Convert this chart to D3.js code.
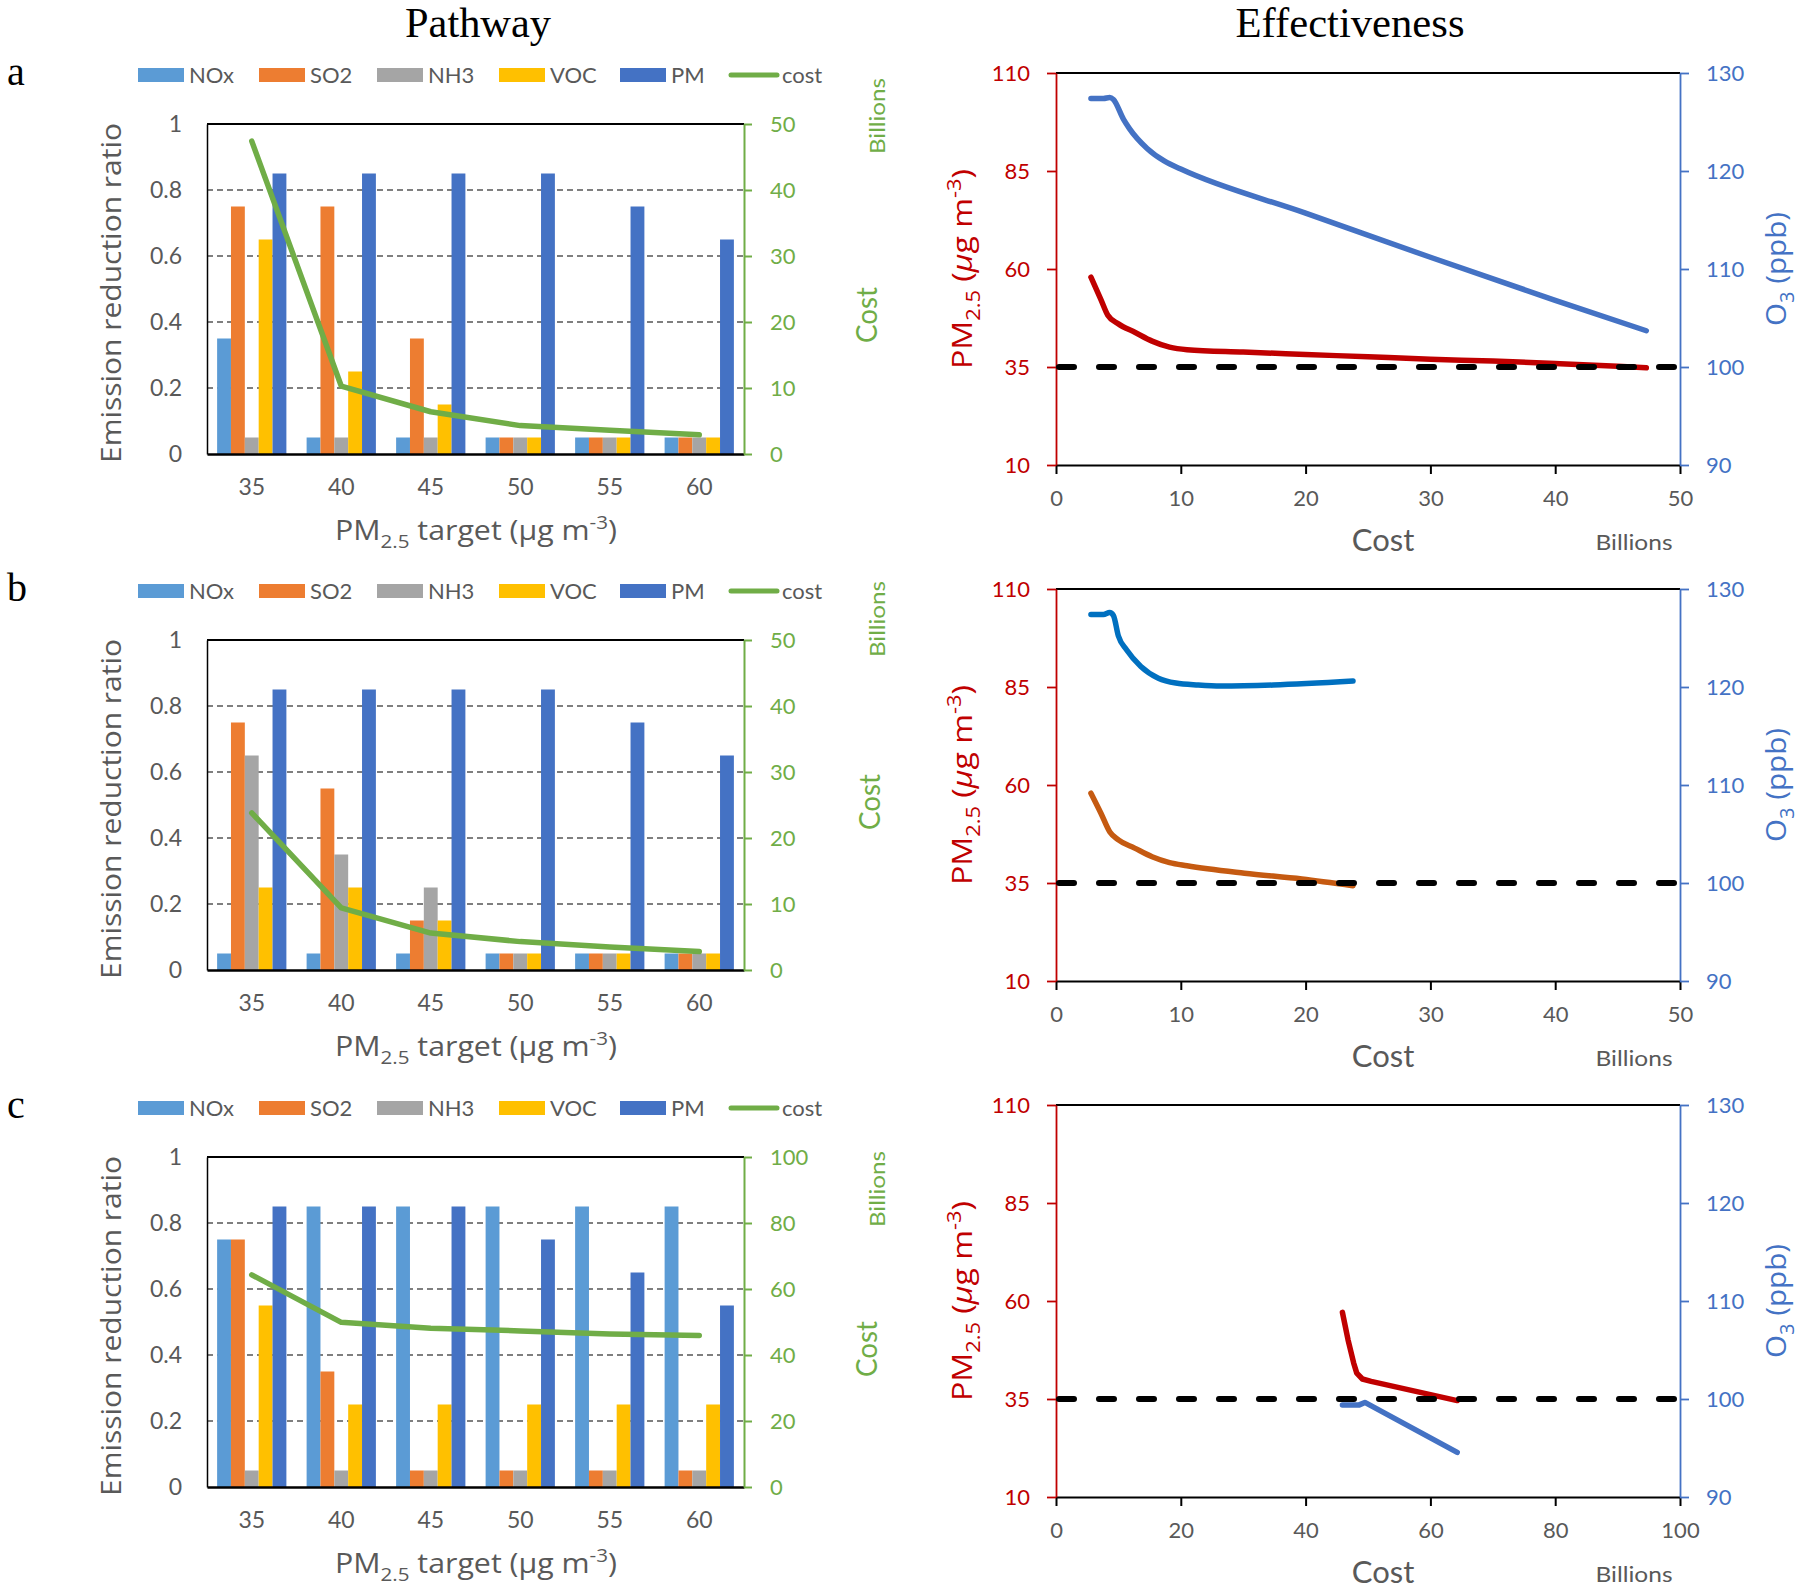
<!DOCTYPE html>
<html><head><meta charset="utf-8">
<script src="https://cdn.jsdelivr.net/npm/d3@7"></script>
<style>body{margin:0;background:#fff}</style>
</head><body><svg id="c" width="1800" height="1589"></svg>
<script>
// ---------------- DATA ----------------
const categories = ["35","40","45","50","55","60"];
const species = ["NOx","SO2","NH3","VOC","PM"];
const leftTicks = [0,0.2,0.4,0.6,0.8,1];
const costTicksAB = [0,10,20,30,40,50];
const costTicksC = [0,20,40,60,80,100];
const pmTicks = [10,35,60,85,110];
const o3Ticks = [90,100,110,120,130];
const effXTicksAB = [0,10,20,30,40,50];
const effXTicksC = [0,20,40,60,80,100];

// emission reduction ratios, rows follow species order, columns follow categories
const ratioA = [
  [0.35,0.05,0.05,0.05,0.05,0.05],
  [0.75,0.75,0.35,0.05,0.05,0.05],
  [0.05,0.05,0.05,0.05,0.05,0.05],
  [0.65,0.25,0.15,0.05,0.05,0.05],
  [0.85,0.85,0.85,0.85,0.75,0.65]];
const ratioB = [
  [0.05,0.05,0.05,0.05,0.05,0.05],
  [0.75,0.55,0.15,0.05,0.05,0.05],
  [0.65,0.35,0.25,0.05,0.05,0.05],
  [0.25,0.25,0.15,0.05,0.05,0.05],
  [0.85,0.85,0.85,0.85,0.75,0.65]];
const ratioC = [
  [0.75,0.85,0.85,0.85,0.85,0.85],
  [0.75,0.35,0.05,0.05,0.05,0.05],
  [0.05,0.05,0.05,0.05,0.05,0.05],
  [0.55,0.25,0.25,0.25,0.25,0.25],
  [0.85,0.85,0.85,0.75,0.65,0.55]];
const costA = [47.4,10.3,6.4,4.3,3.6,2.9];
const costB = [23.8,9.4,5.6,4.3,3.5,2.8];
const costC = [64.3,49.9,48.1,47.3,46.4,45.9];

// effectiveness curves (cost in billions, PM2.5 in ug m-3, O3 in ppb)
const pmA_cost = [2.8,3.6,4.15,5.0,6.35,7.7,9.1,10.5,15,20,25,30,35,40,45,47.3];
const pmA      = [57.9,52.2,48.2,46.0,43.8,41.6,40.05,39.4,38.8,38.2,37.6,37.0,36.5,35.9,35.2,34.8];
const o3A_cost = [2.8,3.8,4.3,4.6,5.4,5.9,7.3,8.7,10.0,20,30,40,47.3];
const o3A      = [127.4,127.4,127.5,127.3,125.3,124.3,122.3,121.0,120.2,115.7,111.2,106.8,103.7];
const pmB_cost = [2.8,3.6,4.3,5.0,6.3,7.7,9.1,10.5,15.1,19.7,23.8];
const pmB      = [57.9,52.8,48.1,46.0,43.9,41.7,40.2,39.4,37.5,36.0,34.3];
const o3B_cost = [2.8,3.8,4.3,4.6,5.0,5.65,6.8,8.2,9.6,11.4,13.2,17.4,23.8];
const o3B      = [127.4,127.4,127.6,127.3,125.2,123.8,122.1,120.9,120.4,120.2,120.1,120.2,120.6];
const pmC_cost = [45.9,46.8,47.7,48.2,49.1,50.5,64.3];
const pmC      = [57.1,50.1,44.2,41.6,40.1,39.5,34.6];
const o3C_cost = [45.9,48.6,49.5,64.3];
const o3C      = [99.4,99.4,99.65,94.55];
const pmTarget = 35;

// ---------------- STYLE / LAYOUT ----------------
const speciesColor = {NOx:"#5B9BD5", SO2:"#ED7D31", NH3:"#A5A5A5", VOC:"#FFC000", PM:"#4472C4"};
const GREEN = "#70AD47", GRAY = "#595959", RED = "#C00000", BLUE = "#4472C4";
const NUM = "Lato, 'Open Sans', sans-serif";
const SANS = "'Open Sans', 'Noto Sans', sans-serif";
const SERIF = "'Liberation Serif', 'Times New Roman', serif";
const L = {x0:207, x1:744, h:330, tops:[124,640,1157]};
const R = {x0:1056, x1:1680, h:392, tops:[73,589,1105]};

const svg = d3.select("#c");
svg.append("rect").attr("width",1800).attr("height",1589).attr("fill","#fff");

function richText(sel, parts, size) {
  let shift = 0;
  parts.forEach(([t,m]) => {
    const ts = sel.append("tspan").text(t);
    const target = m==="sub" ? size*0.3 : m==="sup" ? -size*0.4 : 0;
    ts.attr("dy", target - shift); shift = target;
    if (m==="sub"||m==="sup") ts.attr("font-size", size*0.68);
    if (m==="i") ts.attr("font-style","italic");
  });
}
function label(x, y, opts) {
  let tf = `translate(${x},${y})`;
  if (opts.rotate) tf += " rotate(-90)";
  if (opts.sy) tf += ` scale(1,${opts.sy})`;
  const g = svg.append("g").attr("transform", tf);
  const t = g.append("text").attr("text-anchor", opts.anchor || "middle")
    .attr("font-family", opts.family || SANS).attr("font-size", opts.size)
    .attr("fill", opts.fill || GRAY);
  if (opts.parts) richText(t, opts.parts, opts.size); else t.text(opts.text);
  if (opts.len) t.attr("textLength", opts.len).attr("lengthAdjust","spacingAndGlyphs");
  return t;
}
function styleAxis(g, color, width, textColor) {
  g.select(".domain").attr("stroke", color).attr("stroke-width", width);
  g.selectAll(".tick line").attr("stroke", color).attr("stroke-width", width);
  g.selectAll(".tick text").attr("fill", textColor).attr("font-family", NUM).attr("font-size", 22);
}

// titles
label(478, 37, {text:"Pathway", family:SERIF, size:38, fill:"#000", sy:1.12, len:146});
label(1350, 37, {text:"Effectiveness", family:SERIF, size:38, fill:"#000", sy:1.12, len:229});

function drawPathway(i, ratios, cost, costMax, costTicks, letter, costY, billY, costX) {
  const top = L.tops[i], bot = top + L.h;
  const g = svg.append("g");
  const x0 = d3.scaleBand().domain(categories).range([L.x0, L.x1]).paddingInner(0.226).paddingOuter(0.113);
  const x1 = d3.scaleBand().domain(species).range([0, x0.bandwidth()]);
  const y = d3.scaleLinear().domain([0,1]).range([bot, top]);
  const yc = d3.scaleLinear().domain([0,costMax]).range([bot, top]);

  g.selectAll(".grid").data(leftTicks.filter(d => d>0 && d<1)).join("line")
    .attr("x1", L.x0).attr("x2", L.x1).attr("y1", d=>y(d)).attr("y2", d=>y(d))
    .attr("stroke","#7f7f7f").attr("stroke-width",1.8).attr("stroke-dasharray","6,4");

  const cells = [];
  species.forEach((s, si) => categories.forEach((c, ci) => cells.push({s, c, v: ratios[si][ci]})));
  g.selectAll(".bar").data(cells).join("rect")
    .attr("x", d => x0(d.c) + x1(d.s)).attr("width", x1.bandwidth())
    .attr("y", d => y(d.v)).attr("height", d => bot - y(d.v))
    .attr("fill", d => speciesColor[d.s]);

  g.append("line").attr("x1", L.x0).attr("x2", L.x1).attr("y1", y(1)).attr("y2", y(1))
    .attr("stroke","#000").attr("stroke-width",2.2);

  const ax = g.append("g").attr("transform", `translate(0,${bot})`)
    .call(d3.axisBottom(x0).tickSize(0).tickSizeOuter(0).tickPadding(25));
  styleAxis(ax, "#000", 2.6, GRAY);
  ax.selectAll(".tick text").attr("font-size", 23);
  const ay = g.append("g").attr("transform", `translate(${L.x0},0)`)
    .call(d3.axisLeft(y).tickValues(leftTicks).tickFormat(d3.format("")).tickSize(0).tickSizeOuter(0).tickPadding(25));
  styleAxis(ay, "#000", 1.5, GRAY);
  ay.selectAll(".tick text").attr("font-size", 23);
  const ar = g.append("g").attr("transform", `translate(${L.x1},0)`)
    .call(d3.axisRight(yc).tickValues(costTicks).tickSize(8).tickSizeOuter(0).tickPadding(18));
  styleAxis(ar, GREEN, 2, GREEN);

  const line = d3.line().x((d, k) => x0(categories[k]) + x0.bandwidth()/2).y(d => yc(d));
  g.append("path").datum(cost).attr("d", line).attr("fill","none")
    .attr("stroke", GREEN).attr("stroke-width", 5.5).attr("stroke-linejoin","round").attr("stroke-linecap","round");

  // legend
  const ly = top - 49;
  const lx = [138, 259, 377, 499, 620];
  species.forEach((s, k) => {
    g.append("rect").attr("x", lx[k]).attr("y", ly-7).attr("width", 46).attr("height", 14).attr("fill", speciesColor[s]);
    g.append("text").attr("x", lx[k]+51).attr("y", ly).attr("dy","0.35em").attr("font-family", NUM)
      .attr("font-size", 22).attr("fill", GRAY).text(s);
  });
  g.append("line").attr("x1", 731).attr("x2", 777).attr("y1", ly).attr("y2", ly)
    .attr("stroke", GREEN).attr("stroke-width", 5).attr("stroke-linecap","round");
  g.append("text").attr("x", 782).attr("y", ly).attr("dy","0.35em").attr("font-family", NUM)
    .attr("font-size", 22).attr("fill", GRAY).text("cost");

  label(7, ly + 10, {text: letter, family: SERIF, size: 40, fill: "#000", anchor: "start"});
  label(121, top + L.h/2 + 4, {text:"Emission reduction ratio", size:27, rotate:true, len:340});
  label(476, bot + 86, {parts:[["PM","n"],["2.5","sub"],[" target (μg m","n"],["-3","sup"],[")","n"]], size:27, len:282});
  label(costX, top + costY, {text:"Cost", size:28, rotate:true, fill:GREEN, family:NUM, len:56});
  label(885, top + billY, {text:"Billions", size:21, rotate:true, fill:GREEN, family:NUM, len:76});
}

function drawEff(i, xMax, xTicks, pmCost, pm, o3Cost, o3, pmColor, o3Color, curve) {
  const top = R.tops[i], bot = top + R.h;
  const g = svg.append("g");
  const x = d3.scaleLinear().domain([0, xMax]).range([R.x0, R.x1]);
  const yPM = d3.scaleLinear().domain([10,110]).range([bot, top]);
  const yO3 = d3.scaleLinear().domain([90,130]).range([bot, top]);

  g.append("line").attr("x1", R.x0).attr("x2", R.x1).attr("y1", top).attr("y2", top)
    .attr("stroke","#000").attr("stroke-width",2);
  const ax = g.append("g").attr("transform", `translate(0,${bot})`)
    .call(d3.axisBottom(x).tickValues(xTicks).tickSize(9).tickSizeOuter(0).tickPadding(16));
  styleAxis(ax, "#000", 2, GRAY);
  const al = g.append("g").attr("transform", `translate(${R.x0},0)`)
    .call(d3.axisLeft(yPM).tickValues(pmTicks).tickSize(9).tickSizeOuter(0).tickPadding(17));
  styleAxis(al, RED, 1.8, RED);
  const ar = g.append("g").attr("transform", `translate(${R.x1},0)`)
    .call(d3.axisRight(yO3).tickValues(o3Ticks).tickSize(9).tickSizeOuter(0).tickPadding(17));
  styleAxis(ar, BLUE, 1.8, BLUE);

  const lO3 = d3.line().x(d => x(d[0])).y(d => yO3(d[1])).curve(curve);
  const lPM = d3.line().x(d => x(d[0])).y(d => yPM(d[1])).curve(curve);
  g.append("path").datum(d3.zip(o3Cost, o3)).attr("d", lO3).attr("fill","none")
    .attr("stroke", o3Color).attr("stroke-width", 5.5).attr("stroke-linecap","round").attr("stroke-linejoin","round");
  g.append("path").datum(d3.zip(pmCost, pm)).attr("d", lPM).attr("fill","none")
    .attr("stroke", pmColor).attr("stroke-width", 5.5).attr("stroke-linecap","round").attr("stroke-linejoin","round");

  g.append("line").attr("x1", x(0)+3).attr("x2", x(xMax)-3).attr("y1", yPM(pmTarget)).attr("y2", yPM(pmTarget))
    .attr("stroke","#000").attr("stroke-width",6).attr("stroke-dasharray","15,25").attr("stroke-linecap","round");

  label(1383, bot + 86, {text:"Cost", size:31, family:NUM});
  label(1634, bot + 85, {text:"Billions", size:22, family:NUM, len:77});
  label(972, top + R.h/2, {parts:[["PM","n"],["2.5","sub"],[" (","n"],["μ","i"],["g m","n"],["-3","sup"],[")","n"]],
    size:28, rotate:true, fill:RED, len:200});
  label(1786, top + R.h/2, {parts:[["O","n"],["3","sub"],[" (ppb)","n"]], size:28, rotate:true, fill:BLUE, len:114});
}

drawPathway(0, ratioA, costA, 50, costTicksAB, "a", 191, -8, 877);
drawPathway(1, ratioB, costB, 50, costTicksAB, "b", 162, -21, 880);
drawPathway(2, ratioC, costC, 100, costTicksC, "c", 192, 32, 877);

drawEff(0, 50, effXTicksAB, pmA_cost, pmA, o3A_cost, o3A, RED, BLUE, d3.curveMonotoneX);
drawEff(1, 50, effXTicksAB, pmB_cost, pmB, o3B_cost, o3B, "#C55A11", "#0070C0", d3.curveMonotoneX);
drawEff(2, 100, effXTicksC, pmC_cost, pmC, o3C_cost, o3C, RED, BLUE, d3.curveLinear);
</script>
</body></html>
